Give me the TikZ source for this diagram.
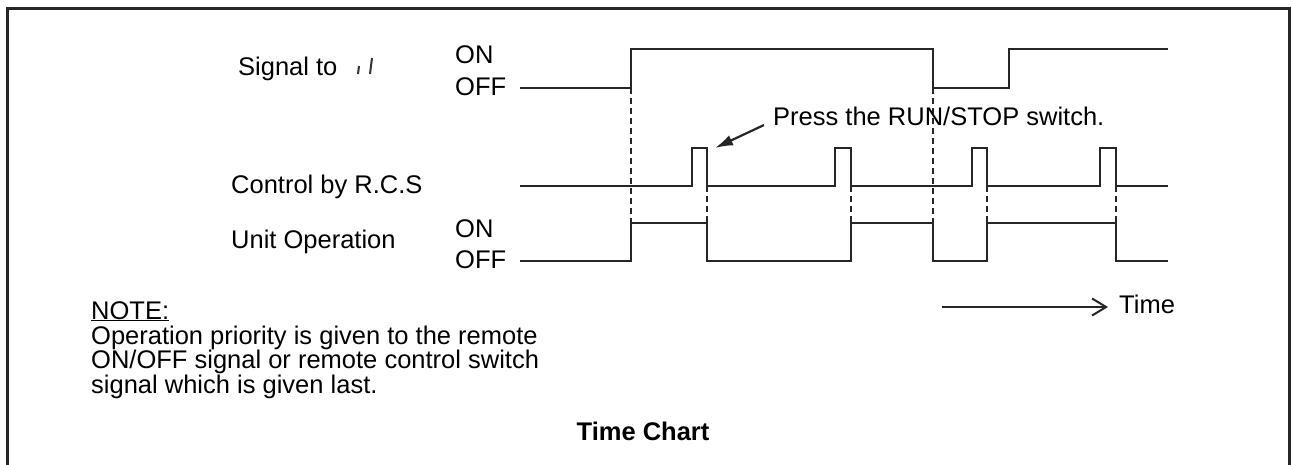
\documentclass[tikz,border=0pt]{standalone}
\usepackage{fontspec}
\setmainfont{Liberation Sans}
\usetikzlibrary{arrows.meta}
\begin{document}
\begin{tikzpicture}[x=1pt,y=-1pt,
  lbl/.style={anchor=base west,inner sep=0pt,font=\fontsize{25.5}{27}\selectfont},
  wave/.style={line width=2.8pt,color=black!85,line join=miter},
  guide/.style={line width=1.1pt,color=black!85,dash pattern=on 6pt off 4pt},
  frame/.style={line width=3pt,color=black!85}]
\useasboundingbox (0,0) rectangle (1292,464);
% frame
\draw[frame] (7.5,480) -- (7.5,8) -- (1289,8) -- (1289,480);
% labels
\node[lbl] (sig) at (238,75) {Signal to};
\draw[line width=2pt,black!80] (359,66) -- (358,74);
\draw[line width=2pt,black!80] (372,58) -- (370,74);
\node[lbl] (on1) at (455,63) {ON};
\node[lbl] (off1) at (455,95) {OFF};
\node[lbl] (rcs) at (231,193) {Control by R.C.S};
\node[lbl] (unit) at (231,248) {Unit Operation};
\node[lbl] (on2) at (455,237) {ON};
\node[lbl] (off2) at (455,268) {OFF};
% waveforms
\draw[wave] (520,88) -- (631,88) -- (631,49) -- (933,49) -- (933,88) -- (1009,88) -- (1009,49) -- (1168,49);
\draw[wave] (520,186) -- (692,186) -- (692,148) -- (707,148) -- (707,186)
  -- (835,186) -- (835,148) -- (851,148) -- (851,186)
  -- (972,186) -- (972,148) -- (987,148) -- (987,186)
  -- (1100,186) -- (1100,148) -- (1116,148) -- (1116,186) -- (1168,186);
\draw[wave] (520,261) -- (631,261) -- (631,223) -- (707,223) -- (707,261)
  -- (851,261) -- (851,223) -- (933,223) -- (933,261) -- (987,261) -- (987,223)
  -- (1116,223) -- (1116,261) -- (1168,261);
% guides
\draw[guide] (631,88) -- (631,223);
\draw[guide] (707,186) -- (707,223);
\draw[guide] (851,186) -- (851,223);
\draw[guide] (933,88) -- (933,223);
\draw[guide] (987,186) -- (987,223);
\draw[guide] (1116,186) -- (1116,223);
% annotation
\node[lbl] (press) at (773,125) {Press the RUN/STOP switch.};
\coordinate (pulse) at (715,148);
\draw[line width=2.2pt,black!85,-{Latex[length=18pt,width=11pt]}] (764,125) -- (pulse);
% time arrow
\node[lbl] (time) at (1119,313) {Time};
\coordinate (t0) at (942,307);
\coordinate (t1) at (1108,307);
\draw[line width=2pt,black!85,-{Straight Barb[length=14pt,width=17pt,line width=2pt]}] (t0) -- (t1);
% note
\node[lbl,anchor=base west] (note) at (91,319) {\underline{NOTE:}};
\node[anchor=north west,inner sep=0pt,align=left,font=\fontsize{25.5}{22.5}\selectfont] (notetext) at (91,325.5)
  {Operation priority is given to the remote\\ON/OFF signal or remote control switch\\signal which is given last.};
\node[anchor=base,inner sep=0pt,font=\fontsize{25.5}{27}\selectfont\bfseries] (title) at (643,440) {Time Chart};
\end{tikzpicture}
\end{document}
